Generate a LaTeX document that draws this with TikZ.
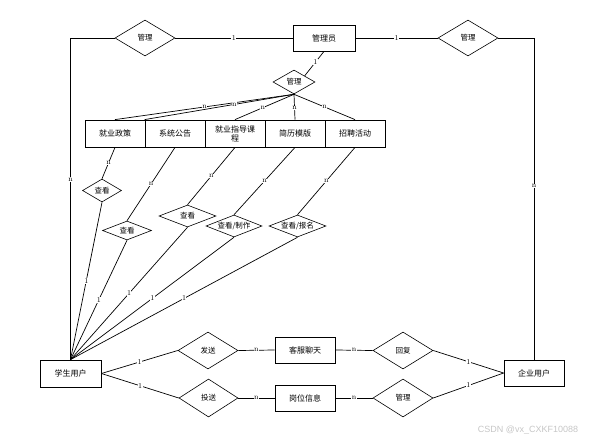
\documentclass[tikz,border=0pt]{standalone}
\usepackage{fontspec}
\newfontfamily\cjk{Noto Sans CJK SC}
\newfontfamily\marksans{Liberation Sans}
\usetikzlibrary{shapes.geometric}

% text of a diamond: no width, so the diamond keeps its given size
\newcommand{\rname}[1]{\makebox[0pt]{#1}}

\begin{document}
\begin{tikzpicture}[x=1pt, y=-1pt,
  entity/.style={draw, line width=0.8pt, minimum width=60pt, minimum height=26pt,
    inner sep=1pt, align=center, font=\cjk\fontsize{8}{9}\selectfont},
  relation/.style={draw, diamond, line width=0.6pt, inner sep=0pt,
    font=\cjk\fontsize{7.5}{9}\selectfont},
  card/.style={fill=white, inner sep=0.5pt, font=\fontsize{7.5}{8}\selectfont},
  link/.style={line width=0.7pt}]

\useasboundingbox (0,0) rectangle (602,441);

% top
\node[entity, minimum width=62pt] (admin) at (324,38) {管理员};
\node[relation, minimum width=60pt, minimum height=36pt] (mgrL) at (145,38) {\rname{管理}};
\node[relation, minimum width=60pt, minimum height=36pt] (mgrR) at (468,38) {\rname{管理}};
\node[relation, minimum width=42pt, minimum height=24pt] (mgrM) at (294,82) {\rname{管理}};

% row of entities
\node[entity, minimum height=27pt] (policy) at (115,133.5) {就业政策};
\node[entity, minimum height=27pt] (notice) at (175,133.5) {系统公告};
\node[entity, minimum height=27pt] (course) at (235,133.5) {就业指导课\\程};
\node[entity, minimum height=27pt] (resume) at (295,133.5) {简历模版};
\node[entity, minimum height=27pt] (recruit) at (355,133.5) {招聘活动};

% views
\node[relation, minimum width=39pt, minimum height=23pt] (viewA) at (102,190.5) {\rname{查看}};
\node[relation, minimum width=49pt, minimum height=19pt] (viewB) at (127,230.5) {\rname{查看}};
\node[relation, minimum width=57pt, minimum height=22pt] (viewC) at (187.5,216) {\rname{查看}};
\node[relation, minimum width=56pt, minimum height=22pt] (viewD) at (234,226) {\rname{查看/制作}};
\node[relation, minimum width=57pt, minimum height=22pt] (viewE) at (297.5,226) {\rname{查看/报名}};

% users
\node[entity, minimum width=61pt, minimum height=27pt] (student) at (70.5,373.5) {学生用户};
\node[entity] (company) at (534,373) {企业用户};

% bottom
\node[relation, minimum width=60pt, minimum height=37pt] (send) at (208,350.5) {\rname{发送}};
\node[relation, minimum width=59pt, minimum height=38pt] (deliver) at (208.5,398) {\rname{投送}};
\node[entity] (chat) at (305,350) {客服聊天};
\node[entity] (job) at (305,398) {岗位信息};
\node[relation, minimum width=60pt, minimum height=37pt] (reply) at (403,350.5) {\rname{回复}};
\node[relation, minimum width=60pt, minimum height=38pt] (manage) at (403,398) {\rname{管理}};

% connectors
\draw[link] (mgrL.east) -- node[card]{1} (admin.west);
\draw[link] (admin.east) -- node[card]{1} (mgrR.west);
\draw[link] (mgrL.west) -| node[card, pos=0.72]{n} (student.north);
\draw[link] (mgrR.east) -| node[card, pos=0.73]{n} (company.north);
\draw[link] (admin.south) -- node[card, pos=0.45]{1} (mgrM.north east);

\draw[link] (mgrM.south) -- node[card, pos=0.5]{n} (policy.north);
\draw[link] (mgrM.south) -- node[card, pos=0.4]{n} (notice.north west);
\draw[link] (mgrM.south) -- node[card, pos=0.53]{n} (course.north);
\draw[link] (mgrM.south) -- node[card, pos=0.55]{n} (resume.north);
\draw[link] (mgrM.south) -- node[card, pos=0.5]{n} (recruit.north);

\draw[link] (policy.south) -- node[card]{n} (viewA.north);
\draw[link] (notice.south) -- node[card]{n} (viewB.north);
\draw[link] (course.south) -- node[card]{n} (viewC.north);
\draw[link] (resume.south) -- node[card]{n} (viewD.north);
\draw[link] (recruit.south) -- node[card]{n} (viewE.north);

\draw[link] (viewA.south) -- node[card]{1} (student.north);
\draw[link] (viewB.south) -- node[card]{1} (student.north);
\draw[link] (viewC.south) -- node[card]{1} (student.north);
\draw[link] (viewD.south) -- node[card]{1} (student.north);
\draw[link] (viewE.south) -- node[card]{1} (student.north);

\draw[link] (student.east) -- node[card]{1} (send.west);
\draw[link] (student.east) -- node[card]{1} (deliver.west);
\draw[link] (send.east) -- node[card]{n} (chat.west);
\draw[link] (deliver.east) -- node[card]{n} (job.west);
\draw[link] (chat.east) -- node[card]{n} (reply.west);
\draw[link] (job.east) -- node[card]{n} (manage.west);
\draw[link] (reply.east) -- node[card]{1} (company.west);
\draw[link] (manage.east) -- node[card]{1} (company.west);

\node[text=gray!45, font=\marksans\fontsize{9}{10}\selectfont] (mark) at (528,430) {CSDN @vx\_CXKF10088};

\end{tikzpicture}
\end{document}
